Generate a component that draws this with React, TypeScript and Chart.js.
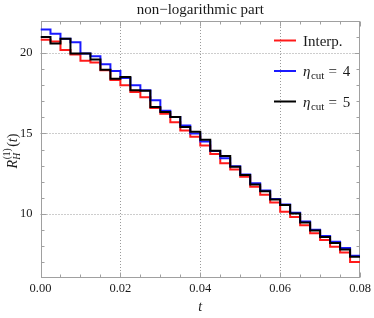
import { useEffect, useRef } from "react";
import { Chart, registerables } from "chart.js";

Chart.register(...registerables);

// bin edges in t (33 edges -> 32 bins)
const binEdges = [
  0, 0.0025, 0.005, 0.0075, 0.01, 0.0125, 0.015, 0.0175, 0.02, 0.0225, 0.025,
  0.0275, 0.03, 0.0325, 0.035, 0.0375, 0.04, 0.0425, 0.045, 0.0475, 0.05,
  0.0525, 0.055, 0.0575, 0.06, 0.0625, 0.065, 0.0675, 0.07, 0.0725, 0.075,
  0.0775, 0.08,
];

const interpValues = [
  20.83, 20.72, 20.2, 19.92, 19.52, 19.42, 18.93, 18.33, 18.0, 17.58, 17.25,
  16.58, 16.22, 15.7, 15.18, 14.8, 14.25, 13.72, 13.15, 12.75, 12.3, 11.68,
  11.18, 10.7, 10.12, 9.8, 9.28, 8.78, 8.37, 7.95, 7.58, 7.0,
];
const eta4Values = [
  21.47, 21.2, 20.9, 20.68, 19.98, 19.8, 19.3, 18.88, 18.45, 18.0, 17.69,
  17.07, 16.42, 16.03, 15.5, 15.0, 14.5, 13.9, 13.45, 12.95, 12.44, 11.9,
  11.45, 10.92, 10.58, 10.06, 9.52, 9.0, 8.62, 8.25, 7.86, 7.38,
];
const eta5Values = [
  21.0, 20.6, 20.9, 19.98, 19.98, 19.6, 18.97, 18.4, 18.52, 17.69, 17.66,
  16.65, 16.34, 16.03, 15.4, 15.1, 14.6, 13.92, 13.6, 12.93, 12.42, 11.82,
  11.4, 10.88, 10.55, 10.02, 9.46, 8.96, 8.55, 8.18, 7.77, 7.32,
];

const xTicks = [0, 0.02, 0.04, 0.06, 0.08];
const yTicks = [10, 15, 20];
const xMinorStep = 0.005;
const yMinorStep = 1;

const titleText = "non\u2212logarithmic part";
const legendItems = [
  { color: "#ff1a1a", main: "Interp.", sub: "", tail: "" },
  { color: "#1a1aff", main: "\u03b7", sub: "cut", tail: "4" },
  { color: "#000000", main: "\u03b7", sub: "cut", tail: "5" },
];

const SERIF = "'Liberation Serif', 'DejaVu Serif', serif";

function toSteps(values: number[]) {
  return binEdges.map((x, i) => ({ x, y: values[Math.min(i, values.length - 1)] }));
}

const decorPlugin = {
  id: "decor",
  beforeDatasetsDraw(chart: any) {
    const { ctx, chartArea: a, scales } = chart;
    const xs = scales.x;
    const ys = scales.y;
    ctx.save();
    // dotted grid
    ctx.strokeStyle = "#9a9a9a";
    ctx.lineWidth = 1;
    ctx.setLineDash([1, 2]);
    xTicks.slice(1, -1).forEach((v) => {
      const px = Math.round(xs.getPixelForValue(v)) + 0.5;
      ctx.beginPath();
      ctx.moveTo(px, a.top);
      ctx.lineTo(px, a.bottom);
      ctx.stroke();
    });
    yTicks.forEach((v) => {
      const py = Math.round(ys.getPixelForValue(v)) + 0.5;
      ctx.beginPath();
      ctx.moveTo(a.left, py);
      ctx.lineTo(a.right, py);
      ctx.stroke();
    });
    ctx.setLineDash([]);
    // frame
    ctx.strokeStyle = "#a0a0a0";
    const L = Math.round(a.left) + 0.5;
    const R = Math.round(a.right) - 0.5;
    const T = Math.round(a.top) + 0.5;
    const B = Math.round(a.bottom) - 0.5;
    ctx.strokeRect(L, T, R - L, B - T);
    // ticks (inward), all four sides
    for (let k = 0; k <= 16; k++) {
      const v = k * xMinorStep;
      const major = k % 4 === 0;
      const len = major ? 5 : 3;
      const px = Math.round(xs.getPixelForValue(v)) + 0.5;
      ctx.beginPath();
      ctx.moveTo(px, B);
      ctx.lineTo(px, B - len);
      ctx.moveTo(px, T);
      ctx.lineTo(px, T + len);
      ctx.stroke();
    }
    for (let v = 7; v <= 22; v += yMinorStep) {
      const major = v % 5 === 0;
      const len = major ? 5 : 3;
      const py = Math.round(ys.getPixelForValue(v)) + 0.5;
      ctx.beginPath();
      ctx.moveTo(L, py);
      ctx.lineTo(L + len, py);
      ctx.moveTo(R, py);
      ctx.lineTo(R - len, py);
      ctx.stroke();
    }
    ctx.restore();
  },
  afterDraw(chart: any) {
    const { ctx, chartArea: a } = chart;
    ctx.save();
    ctx.fillStyle = "#1a1a1a";
    // title
    ctx.font = `15px ${SERIF}`;
    ctx.textAlign = "center";
    ctx.textBaseline = "middle";
    ctx.fillText(titleText, (a.left + a.right) / 2, 10);
    // x axis label
    ctx.font = `italic 14px ${SERIF}`;
    ctx.fillText("t", (a.left + a.right) / 2, 307);
    // y axis label R_H^(1)(t)
    ctx.save();
    ctx.translate(12, 151);
    ctx.rotate(-Math.PI / 2);
    ctx.textAlign = "left";
    ctx.textBaseline = "alphabetic";
    const big = `italic 14px ${SERIF}`;
    const small = `italic 9.5px ${SERIF}`;
    const smallUp = `9.5px ${SERIF}`;
    const up = `14px ${SERIF}`;
    ctx.font = big;
    const wR = ctx.measureText("R").width;
    ctx.font = small;
    const wH = ctx.measureText("H").width;
    ctx.font = smallUp;
    const w1 = ctx.measureText("(1)").width;
    const wS = Math.max(wH, w1);
    ctx.font = up;
    const wP = ctx.measureText("(").width;
    const wP2 = ctx.measureText(")").width;
    ctx.font = big;
    const wt = ctx.measureText("t").width;
    const total = wR + wS + 2 + wP + wt + wP2;
    let cx = -total / 2;
    const base = 5;
    ctx.font = big;
    ctx.fillText("R", cx, base);
    cx += wR;
    ctx.font = small;
    ctx.fillText("H", cx, base + 3);
    ctx.font = smallUp;
    ctx.fillText("(1)", cx + 0.5, base - 7);
    cx += wS + 2;
    ctx.font = up;
    ctx.fillText("(", cx, base);
    cx += wP;
    ctx.font = big;
    ctx.fillText("t", cx, base);
    cx += wt;
    ctx.font = up;
    ctx.fillText(")", cx, base);
    ctx.restore();
    // legend
    const lx0 = 274;
    const lx1 = 296;
    const tx = 303;
    const rows = [40.5, 71, 101.5];
    legendItems.forEach((it, i) => {
      const y = rows[i];
      ctx.strokeStyle = it.color;
      ctx.lineWidth = 2;
      ctx.beginPath();
      ctx.moveTo(lx0, y);
      ctx.lineTo(lx1, y);
      ctx.stroke();
      ctx.fillStyle = "#1a1a1a";
      ctx.textAlign = "left";
      ctx.textBaseline = "alphabetic";
      const bl = y + 5;
      if (!it.sub) {
        ctx.font = `15px ${SERIF}`;
        ctx.fillText(it.main, tx, bl);
      } else {
        ctx.font = `italic 15px ${SERIF}`;
        ctx.fillText(it.main, tx, bl);
        let x = tx + ctx.measureText(it.main).width + 0.5;
        ctx.font = `11px ${SERIF}`;
        ctx.fillText(it.sub, x, bl + 3);
        x += ctx.measureText(it.sub).width + 4;
        ctx.font = `15px ${SERIF}`;
        ctx.fillText("=", x, bl);
        x += ctx.measureText("=").width + 6;
        ctx.fillText(it.tail, x, bl);
      }
    });
    ctx.restore();
  },
};

export default function App() {
  const ref = useRef<HTMLCanvasElement | null>(null);
  useEffect(() => {
    if (!ref.current) return;
    const chart = new Chart(ref.current, {
      type: "line",
      data: {
        datasets: [
          {
            label: "Interp.",
            data: toSteps(interpValues),
            borderColor: "#ff1a1a",
            borderWidth: 2,
            pointRadius: 0,
            stepped: true,
            fill: false,
            order: 3,
          },
          {
            label: "eta_cut = 4",
            data: toSteps(eta4Values),
            borderColor: "#1a1aff",
            borderWidth: 2,
            pointRadius: 0,
            stepped: true,
            fill: false,
            order: 2,
          },
          {
            label: "eta_cut = 5",
            data: toSteps(eta5Values),
            borderColor: "#000000",
            borderWidth: 2,
            pointRadius: 0,
            stepped: true,
            fill: false,
            order: 1,
          },
        ],
      },
      options: {
        responsive: false,
        animation: false,
        devicePixelRatio: 1,
        layout: { padding: { top: 21, right: 11, left: 0, bottom: 0 } },
        plugins: {
          legend: { display: false },
          title: { display: false },
          tooltip: { enabled: false },
        },
        scales: {
          x: {
            type: "linear",
            min: 0,
            max: 0.08,
            grid: { display: false, drawTicks: false },
            border: { display: false },
            afterBuildTicks: (s: any) => {
              s.ticks = xTicks.map((v) => ({ value: v }));
            },
            afterFit: (s: any) => {
              s.height = 40;
            },
            ticks: {
              font: { family: SERIF, size: 12.5 },
              color: "#1a1a1a",
              padding: 3,
              maxRotation: 0,
              autoSkip: false,
              callback: (v: any) => Number(v).toFixed(2),
            },
          },
          y: {
            type: "linear",
            min: 6,
            max: 22,
            grid: { display: false, drawTicks: false },
            border: { display: false },
            afterBuildTicks: (s: any) => {
              s.ticks = yTicks.map((v) => ({ value: v }));
            },
            afterFit: (s: any) => {
              s.width = 40.5;
            },
            ticks: {
              font: { family: SERIF, size: 12.5 },
              color: "#1a1a1a",
              padding: 8,
              callback: (v: any) => String(v),
            },
          },
        },
      },
      plugins: [decorPlugin],
    });
    return () => chart.destroy();
  }, []);
  return (
    <div style={{ position: "fixed", left: 0, top: 0, width: 374, height: 318, background: "#fff" }}>
      <canvas ref={ref} width={374} height={318} style={{ width: 374, height: 318 }} />
    </div>
  );
}
